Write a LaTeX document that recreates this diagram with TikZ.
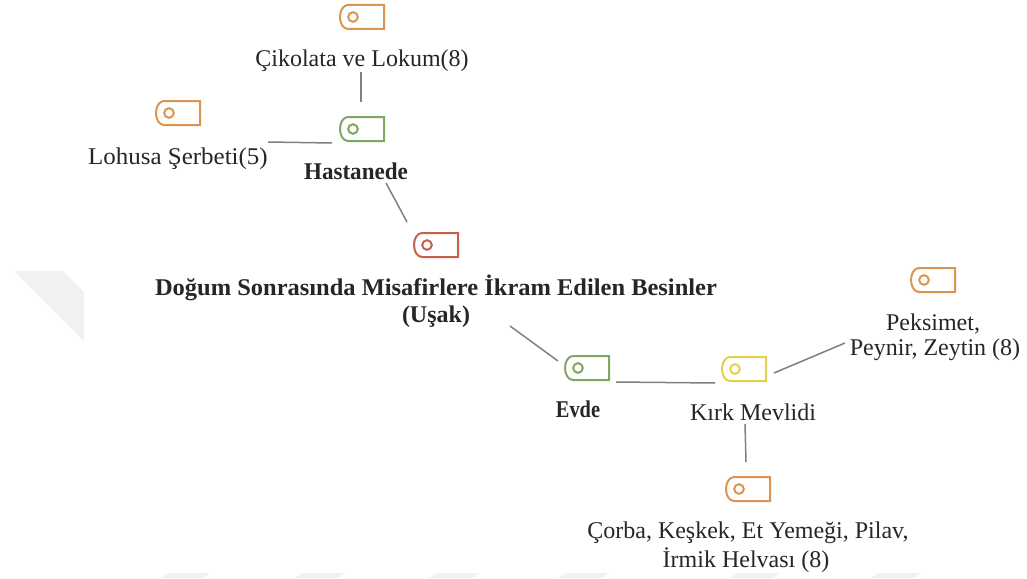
\documentclass[tikz,border=0pt]{standalone}
\usepackage{fontspec}
\setmainfont{Liberation Serif}
\definecolor{org}{HTML}{DB9550}
\definecolor{grn}{HTML}{7FA860}
\definecolor{rd}{HTML}{C8604E}
\definecolor{yel}{HTML}{E6CF4E}
\definecolor{lnk}{HTML}{808080}
\definecolor{wm}{HTML}{F1F1F1}
\tikzset{
  conn/.style={draw=lnk,line width=1.5pt},
  lbl/.style={font=\fontsize{24}{28}\selectfont,text=black!85,align=center,inner sep=0pt},
  blbl/.style={lbl,font=\fontsize{24}{28}\selectfont\bfseries},
  tagbody/.style={line width=2pt,fill=white},
  pics/tagicon/.style={code={
    \draw[tagbody,draw=#1] (22,12) -- (-14,12) .. controls (-19,12) and (-22,6) .. (-22,0) .. controls (-22,-6) and (-19,-12) .. (-14,-12) -- (22,-12) -- cycle;
    \draw[draw=#1,line width=2pt] (-9,0) circle (4.8);
  }}
}
\begin{document}
\begin{tikzpicture}[x=1pt,y=-1pt]
\useasboundingbox (0,0) rectangle (1027,578);
\fill[white] (0,0) rectangle (1027,578);
% faint watermark pieces
\fill[wm] (14,271) -- (63,271) -- (84,292) -- (84,341) -- cycle;
\foreach \x in {160,295,429,558,730,871}{
  \fill[wm] (\x+8,573) -- (\x+50,573) -- (\x+43,578) -- (\x,578) -- cycle;
}
% icons
\pic (i1) at (362,17) {tagicon=org};
\pic (i2) at (178,113) {tagicon=org};
\pic (i3) at (362,129) {tagicon=grn};
\pic (i4) at (436,245) {tagicon=rd};
\pic (i5) at (587,368) {tagicon=grn};
\pic (i6) at (744,369) {tagicon=yel};
\pic (i7) at (933,280) {tagicon=org};
\pic (i8) at (748,489) {tagicon=org};
% anchors
\coordinate (a1) at (361,72); \coordinate (a2) at (361,102);
\coordinate (b1) at (268,142); \coordinate (b2) at (332,143);
\coordinate (c1) at (386,183); \coordinate (c2) at (407,222);
\coordinate (d1) at (510,326); \coordinate (d2) at (558,361);
\coordinate (e1) at (616,382); \coordinate (e2) at (715,383);
\coordinate (f1) at (774,373); \coordinate (f2) at (845,343);
\coordinate (g1) at (745,424); \coordinate (g2) at (746,462);
\draw[conn] (a1) -- (a2);
\draw[conn] (b1) -- (b2);
\draw[conn] (c1) -- (c2);
\draw[conn] (d1) -- (d2);
\draw[conn] (e1) -- (e2);
\draw[conn] (f1) -- (f2);
\draw[conn] (g1) -- (g2);
% labels
\node[lbl] (t1) at (362,61) {Çikolata ve Lokum(8)};
\node[lbl] (t2) at (178,159) {\scalebox{1.04}[1]{Lohusa Şerbeti(5)}};
\node[blbl] (t3) at (356,171) {\scalebox{.96}[1]{Hastanede}};
\node[blbl] (t4) at (436,288) {\scalebox{1.02}[1]{Doğum Sonrasında Misafirlere İkram Edilen Besinler}};
\node[blbl] (t4b) at (436,317) {(Uşak)};
\node[blbl] (t5) at (578,409) {\scalebox{.85}[1]{Evde}};
\node[lbl] (t6) at (753,412) {Kırk Mevlidi};
\node[lbl] (t7) at (933,324) {Peksimet,};
\node[lbl] (t7b) at (935,350) {Peynir, Zeytin (8)};
\node[lbl] (t8) at (748,533) {Çorba, Keşkek, Et Yemeği, Pilav,};
\node[lbl] (t8b) at (746,560) {İrmik Helvası (8)};
\end{tikzpicture}
\end{document}
